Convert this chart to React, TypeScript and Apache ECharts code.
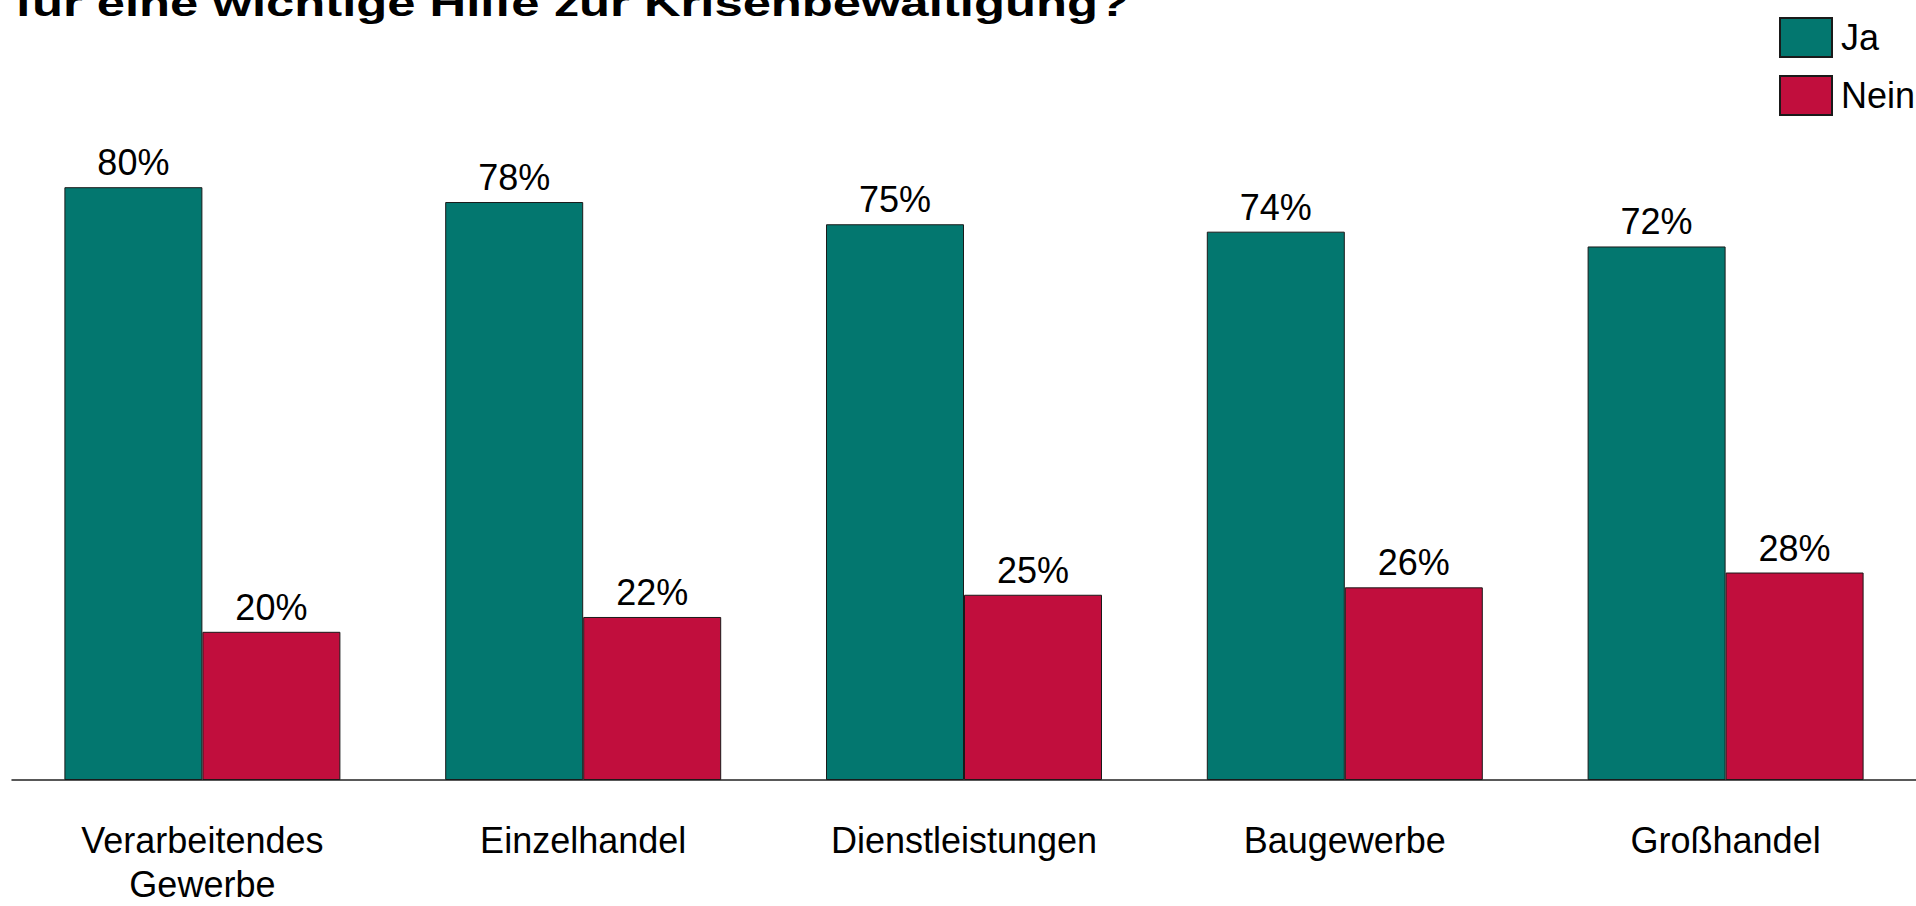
import React, { useEffect, useRef } from "react";
import * as echarts from "echarts";

const categories = ["Verarbeitendes\nGewerbe", "Einzelhandel", "Dienstleistungen", "Baugewerbe", "Großhandel"];
const jaValues = [80, 78, 75, 74, 72];
const neinValues = [20, 22, 25, 26, 28];
const seriesNames = ["Ja", "Nein"];
const titleText = "für eine wichtige Hilfe zur Krisenbewältigung?";

const FONT = 'Arial, "Liberation Sans", sans-serif';

export default function App() {
  const ref = useRef<HTMLDivElement>(null);
  useEffect(() => {
    if (!ref.current) return;
    const chart = echarts.init(ref.current, undefined, { renderer: "svg" });
    const label = {
      show: true,
      position: "top",
      distance: 6.5,
      formatter: "{c}%",
      color: "#000",
      fontSize: 36,
      fontFamily: FONT,
    };
    chart.setOption({
      animation: false,
      backgroundColor: "#fff",
      textStyle: { fontFamily: FONT },
      graphic: [
        {
          type: "text",
          x: 15,
          y: 3,
          scaleX: 1.41,
          style: {
            text: titleText,
            x: 0,
            y: 0,
            fill: "#000",
            font: `bold 36px ${FONT}`,
            align: "left",
            verticalAlign: "middle",
          },
        },
      ],
      legend: {
        orient: "vertical",
        left: 1774,
        top: 12,
        itemWidth: 52,
        itemHeight: 39,
        itemGap: 17,
        icon: "rect",
        data: seriesNames,
        textStyle: { fontSize: 36, color: "#000", fontFamily: FONT, padding: [0, 0, 0, 4] },
      },
      grid: { left: 12, right: -8, top: 39, bottom: 121, containLabel: false },
      xAxis: {
        type: "category",
        data: categories,
        axisTick: { show: false },
        axisLine: { show: true, lineStyle: { color: "#222", width: 1.5 } },
        axisLabel: {
          interval: 0,
          margin: 38,
          fontSize: 36,
          lineHeight: 44,
          color: "#000",
          fontFamily: FONT,
        },
      },
      yAxis: {
        type: "value",
        min: 0,
        max: 100,
        show: false,
        splitLine: { show: false },
      },
      series: [
        {
          name: seriesNames[0],
          type: "bar",
          data: jaValues,
          barWidth: 138,
          barGap: "0%",
          itemStyle: { color: "#03776F", borderColor: "#1a1a1a", borderWidth: 1 },
          label,
        },
        {
          name: seriesNames[1],
          type: "bar",
          data: neinValues,
          barWidth: 138,
          barGap: "0%",
          itemStyle: { color: "#C10E3D", borderColor: "#1a1a1a", borderWidth: 1 },
          label,
        },
      ],
    });
    return () => chart.dispose();
  }, []);
  return (
    <div
      ref={ref}
      style={{ position: "fixed", left: 0, top: 0, width: 1916, height: 906, background: "#fff" }}
    />
  );
}
